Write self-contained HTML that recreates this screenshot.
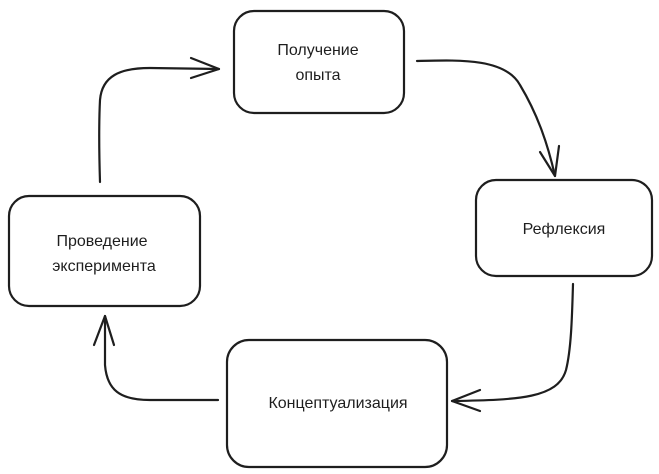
<!DOCTYPE html>
<html><head><meta charset="utf-8"><style>
html,body{margin:0;padding:0;background:#fff;}
svg{display:block;}
text{font-family:"Liberation Sans","DejaVu Sans",sans-serif;font-size:16px;fill:#1e1e1e;text-anchor:middle;}
</style></head><body>
<svg width="659" height="474" viewBox="0 0 659 474" xmlns="http://www.w3.org/2000/svg">
<g fill="none" stroke="#1e1e1e" stroke-width="2.2" stroke-linecap="round" stroke-linejoin="round">
<rect x="234" y="11" width="170" height="102" rx="20"/>
<rect x="476" y="180" width="176" height="96" rx="20"/>
<rect x="227" y="340" width="220" height="127" rx="22"/>
<rect x="9" y="196" width="191" height="110" rx="20"/>
<path d="M100 182 C99 150 99 120 100 100 C102 76 120 68 150 68 L219 69"/>
<path d="M191 58 L219 69 L191 78"/>
<path d="M417 61 C460 60 505 58 520 85 C538 115 548 145 555 176"/>
<path d="M540 152 L555 176 L559 146"/>
<path d="M573 284 C572 320 571 350 566 370 C558 398 520 400 452 401"/>
<path d="M480 390 L452 401 L480 411"/>
<path d="M218 400 L150 400 C120 400 107 390 105 365 L105 316"/>
<path d="M94 345 L105 316 L114 345"/>
</g>
<text x="318" y="55">Получение</text>
<text x="318" y="80">опыта</text>
<text x="564" y="234">Рефлексия</text>
<text x="102" y="246">Проведение</text>
<text x="104" y="271">эксперимента</text>
<text x="338" y="408">Концептуализация</text>
</svg>
</body></html>
